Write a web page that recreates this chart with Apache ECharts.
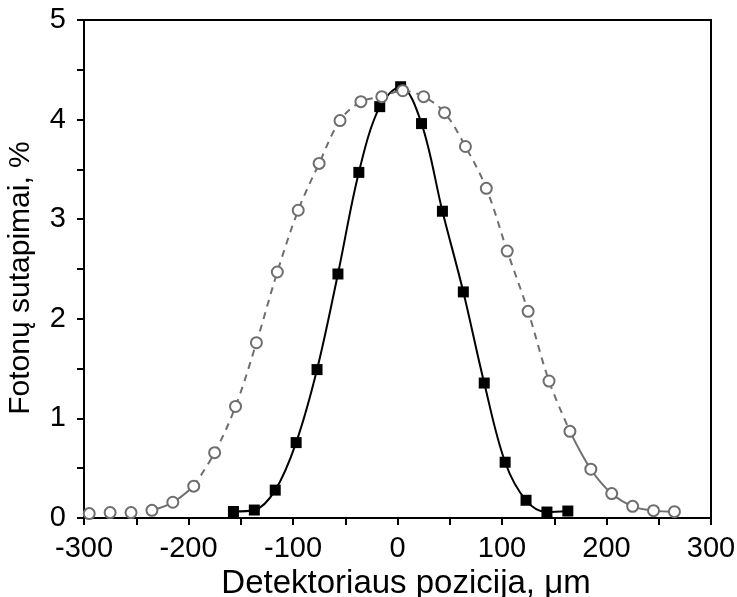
<!DOCTYPE html>
<html>
<head>
<meta charset="utf-8">
<script src="https://cdn.jsdelivr.net/npm/echarts@6/dist/echarts.min.js"></script>
<style>html,body{margin:0;padding:0;background:#fff}#c{width:737px;height:597px}</style>
</head>
<body>
<div id="c"></div>
<script>
// Black squares (narrow profile)
const sqX = [-157, -137, -117, -97, -77, -57, -37, -17, 3, 23, 43, 63, 83, 103, 123, 143, 163];
const sqY = [0.065, 0.08, 0.28, 0.757, 1.49, 2.45, 3.47, 4.13, 4.33, 3.96, 3.08, 2.27, 1.355, 0.56, 0.178, 0.06, 0.07];
// Gray circles (wide profile)
const ciX = [-295, -275, -255, -235, -215, -195, -175, -155, -135, -115, -95, -75, -55, -35, -15, 5, 25, 45, 65, 85, 105, 125, 145, 165, 185, 205, 225, 245, 265];
const ciY = [0.044, 0.054, 0.054, 0.077, 0.158, 0.32, 0.656, 1.12, 1.76, 2.47, 3.09, 3.56, 3.99, 4.18, 4.23, 4.29, 4.23, 4.07, 3.73, 3.31, 2.68, 2.075, 1.375, 0.87, 0.49, 0.245, 0.117, 0.074, 0.064];
const xTicks = [-300, -200, -100, 0, 100, 200, 300];
const yTicks = [0, 1, 2, 3, 4, 5];

const sq = sqX.map((x, i) => [x, sqY[i]]);
const ci = ciX.map((x, i) => [x, ciY[i]]);
const GRAY = '#6e6e6e';
const FONT = 'Liberation Sans, Arial, sans-serif';

const chart = echarts.init(document.getElementById('c'), null, {renderer: 'canvas'});
const axisCommon = {
  axisLine: {show: true, onZero: false, lineStyle: {color: '#000', width: 2}},
  axisTick: {show: true, inside: false, length: 7, lineStyle: {color: '#000', width: 2}},
  minorTick: {show: true, splitNumber: 2, length: 7, lineStyle: {color: '#000', width: 2}},
  splitLine: {show: false},
  minorSplitLine: {show: false}
};
chart.setOption({
  animation: false,
  grid: {left: 84, right: 26, top: 20, bottom: 79, containLabel: false, outerBoundsMode: 'none',
         show: true, borderColor: '#000', borderWidth: 2, backgroundColor: 'transparent'},
  xAxis: Object.assign({
    type: 'value', min: xTicks[0], max: xTicks[xTicks.length - 1], interval: 100,
    name: 'Detektoriaus pozicija, μm', nameLocation: 'middle', nameGap: 34,
    nameTextStyle: {fontFamily: FONT, fontSize: 33, color: '#000', padding: [0, 0, 0, 17]},
    axisLabel: {fontFamily: FONT, fontSize: 29, color: '#000', margin: 16, showMinLabel: true, showMaxLabel: true}
  }, axisCommon),
  yAxis: Object.assign({
    type: 'value', min: yTicks[0], max: yTicks[yTicks.length - 1], interval: 1,
    name: 'Fotonų sutapimai, %', nameLocation: 'middle', nameGap: 48, nameRotate: 90,
    nameTextStyle: {fontFamily: FONT, fontSize: 30, color: '#000', padding: [0, 18, 0, 0]},
    axisLabel: {fontFamily: FONT, fontSize: 29, color: '#000', margin: 18, showMinLabel: true, showMaxLabel: true}
  }, axisCommon),
  series: [
    {type: 'line', data: sq, smooth: 0.35, showSymbol: false, symbol: 'none',
     lineStyle: {color: '#000', width: 2}, z: 2},
    {type: 'scatter', data: sq, symbol: 'rect', symbolSize: 11,
     itemStyle: {color: '#000', opacity: 1}, z: 3},
    {type: 'line', data: ci.slice(3, 6), smooth: 0.35, symbol: 'none',
     lineStyle: {color: GRAY, width: 2}, z: 4},
    {type: 'line', data: ci.slice(5, 24), smooth: 0.35, symbol: 'none',
     lineStyle: {color: GRAY, width: 2, type: [7, 6]}, z: 4},
    {type: 'line', data: ci.slice(23), smooth: 0.35, symbol: 'none',
     lineStyle: {color: GRAY, width: 2}, z: 4},
    {type: 'scatter', data: ci, symbol: 'circle', symbolSize: 11,
     itemStyle: {color: '#fff', borderColor: GRAY, borderWidth: 2, opacity: 1}, z: 5}
  ]
});
</script>
</body>
</html>
